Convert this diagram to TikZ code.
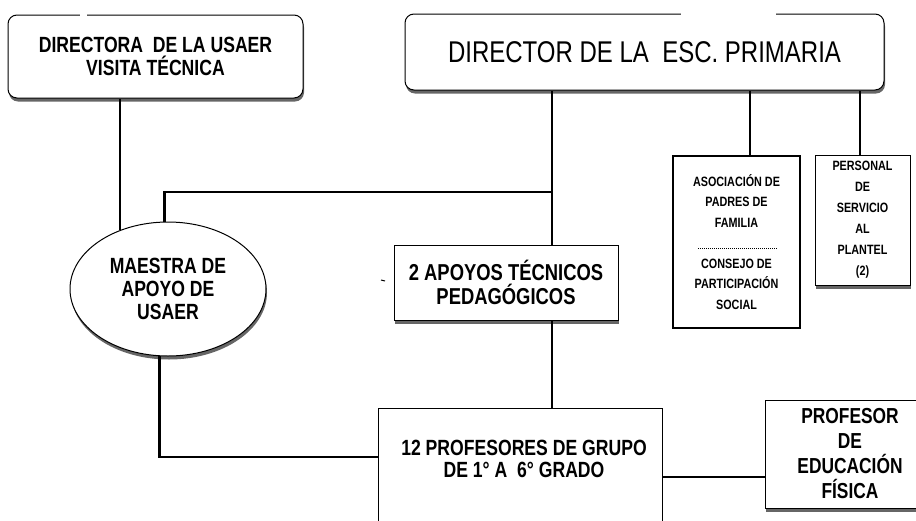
\documentclass[tikz,border=0pt]{standalone}
\usepackage{fontspec}
\setmainfont{Liberation Sans}[FakeStretch=0.8]
\usetikzlibrary{shapes.geometric,shadows}

\tikzset{
  caja/.style={draw, line width=1pt, fill=white, align=center, inner sep=0pt},
  sombra/.style={drop shadow={shadow xshift=1pt, shadow yshift=-3.5pt, fill=black!60, opacity=1}},
  linea/.style={line width=2.5pt},
}

\begin{document}
\begin{tikzpicture}[x=1pt,y=-1pt]
\useasboundingbox (0,0) rectangle (916,520);
\clip (0,0) rectangle (916,520);
% cajas de arriba
\node[caja, sombra, rounded corners=9pt, minimum width=295pt, minimum height=83pt,
      font=\fontsize{22}{23}\selectfont\bfseries] (directora) at (155.5,56.5)
      {DIRECTORA\ \ DE LA USAER\\VISITA TÉCNICA};
\node[caja, sombra, rounded corners=9pt, minimum width=479pt, minimum height=76pt,
      font=\fontsize{30}{32}\selectfont] (director) at (644.5,52)
      {DIRECTOR DE LA\ \ ESC. PRIMARIA};
\draw[white, line width=3pt] (80,15.5) -- (87,15.5);
\draw[white, line width=3pt] (681,14.5) -- (776,14.5);
% nivel medio
\node[caja, sombra, ellipse, minimum width=196pt, minimum height=134pt,
      font=\fontsize{22}{23}\selectfont\bfseries] (maestra) at (168,289)
      {MAESTRA DE\\APOYO DE\\USAER};
\node[caja, sombra, minimum width=224pt, minimum height=75pt,
      font=\fontsize{23}{24}\selectfont\bfseries] (apoyos) at (506,282.5)
      {2 APOYOS TÉCNICOS\\PEDAGÓGICOS};
\node[caja, line width=2pt, minimum width=127pt, minimum height=172pt,
      font=\fontsize{13.5}{20.5}\selectfont\bfseries] (asociacion) at (736.5,242)
      {ASOCIACIÓN DE\\PADRES DE\\FAMILIA\\[20.5pt]CONSEJO DE\\PARTICIPACIÓN\\SOCIAL};
\draw[line width=0.8pt, dash pattern=on 0.8pt off 1.2pt] (698,248) -- (777,248);
\node[caja, sombra, minimum width=95pt, minimum height=130pt,
      font=\fontsize{13.5}{21}\selectfont\bfseries] (personal) at (862.5,220)
      {PERSONAL\\DE\\SERVICIO\\AL\\PLANTEL\\(2)};
% abajo
\node[caja, anchor=north, minimum width=284pt, minimum height=130pt] (profesores) at (520,408) {};
\node[align=center, font=\fontsize{22}{22}\selectfont\bfseries] (grupo) at (524,459)
      {12 PROFESORES DE GRUPO\\DE 1° A\ \ 6° GRADO};
\node[caja, sombra, minimum width=170pt, minimum height=108pt,
      font=\fontsize{21.7}{25}\selectfont\bfseries] (educacion) at (850,454)
      {PROFESOR\\DE\\EDUCACIÓN\\FÍSICA};
% lineas
\coordinate (nudo) at (552,192);
\coordinate (izq) at ([yshift=-49pt]profesores.north west);
\coordinate (der) at ([yshift=-69pt]profesores.north east);
\draw[linea] (maestra.129) -- (maestra.129 |- directora.south);
\draw[linea] (director.south -| nudo) -- (apoyos.north -| nudo);
\draw[linea] (nudo) -| (maestra.93);
\draw[linea] (apoyos.south -| nudo) -- (profesores.north -| nudo);
\draw[linea] (maestra.263) |- (izq);
\draw[linea] (der) -- (der -| educacion.west);
\draw[linea] (750,0 |- director.south) -- (750,0 |- asociacion.north);
\draw[linea] (personal.north -| 860,0) -- (860,0 |- director.south);
\draw[line width=1pt] (381,280) -- (385,281);
\end{tikzpicture}
\end{document}
